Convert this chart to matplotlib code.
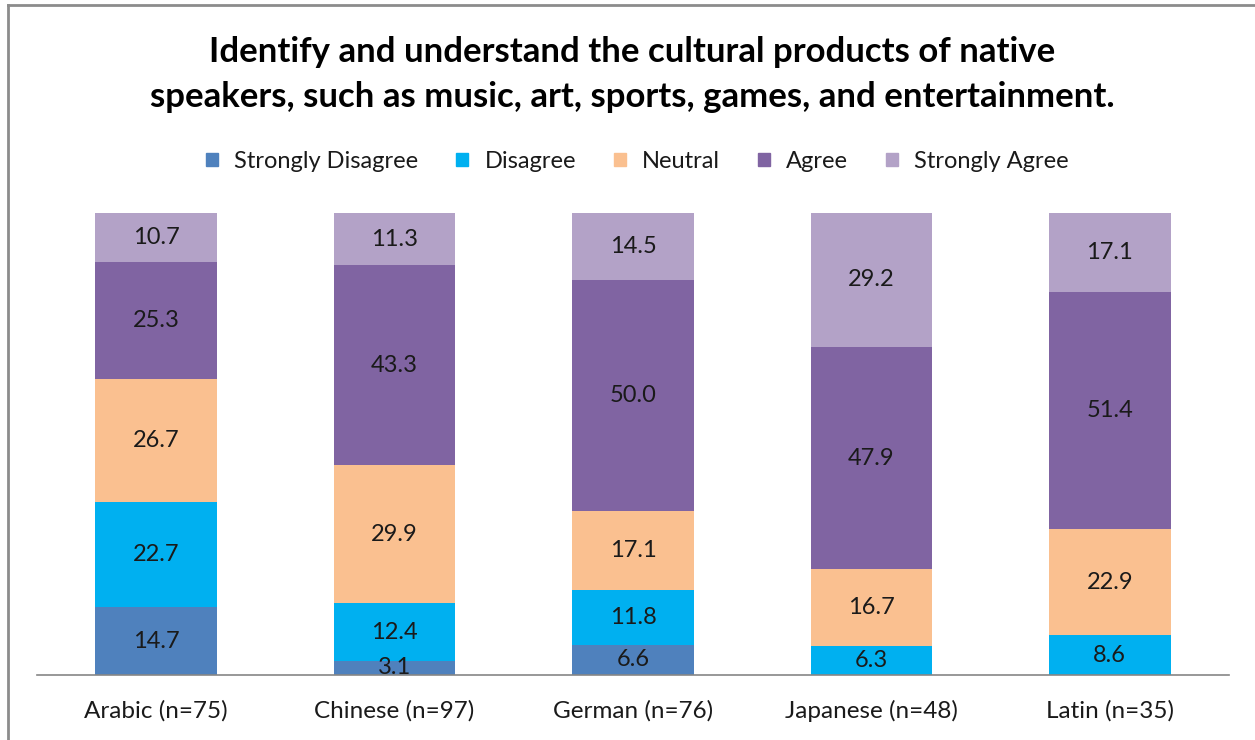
import matplotlib
matplotlib.use("Agg")
import matplotlib.pyplot as plt
from matplotlib.patches import Patch
from matplotlib.lines import Line2D
import numpy as np

plt.rcParams['font.family'] = ['Lato', 'DejaVu Sans']

# percentages by language group
groups = ["Arabic (n=75)", "Chinese (n=97)", "German (n=76)", "Japanese (n=48)", "Latin (n=35)"]
strongly_disagree = [14.7, 3.1, 6.6, 0.0, 0.0]
disagree = [22.7, 12.4, 11.8, 6.3, 8.6]
neutral = [26.7, 29.9, 17.1, 16.7, 22.9]
agree = [25.3, 43.3, 50.0, 47.9, 51.4]
strongly_agree = [10.7, 11.3, 14.5, 29.2, 17.1]

series = [
    ("Strongly Disagree", strongly_disagree, "#4F81BD"),
    ("Disagree", disagree, "#00B0F0"),
    ("Neutral", neutral, "#FAC090"),
    ("Agree", agree, "#8064A2"),
    ("Strongly Agree", strongly_agree, "#B3A2C7"),
]

txt = "#1a1a1a"
fig = plt.figure(figsize=(12.55, 7.4), dpi=100)
ax = fig.add_axes([37 / 1255, 65 / 740, 1192 / 1255, 462 / 740])

x = np.arange(len(groups))
bottom = np.zeros(len(groups))
for name, vals, col in series:
    vals = np.array(vals)
    ax.bar(x, vals, 0.51, bottom=bottom, color=col, label=name)
    for xi, b, v in zip(x, bottom, vals):
        if v > 0:
            ax.text(xi, b + v / 2, f"{v:.1f}", ha="center", va="center",
                    fontsize=17, color=txt)
    bottom += vals

ax.set_xlim(-0.5, len(groups) - 0.5)
ax.set_ylim(0, 100)
ax.set_xticks(x)
ax.set_xticklabels(groups, fontsize=17.5, color=txt)
ax.tick_params(axis="x", length=0, pad=18)
ax.set_yticks([])
for s in ["top", "left", "right"]:
    ax.spines[s].set_visible(False)
ax.spines["bottom"].set_color("#868686")
ax.spines["bottom"].set_linewidth(1.2)

fig.text(0.504, 0.899,
         "Identify and understand the cultural products of native\n"
         "speakers, such as music, art, sports, games, and entertainment.",
         ha="center", va="center", fontsize=25, fontweight="bold",
         color="black", linespacing=1.48)

handles = [Patch(color=c, label=n) for n, _, c in series]
fig.legend(handles=handles, loc="center", bbox_to_anchor=(0.508, 0.782),
           ncol=5, frameon=False, fontsize=17, handlelength=0.5,
           handleheight=0.5, handletextpad=0.7, columnspacing=1.6,
           labelcolor=txt)

# chart frame edges
fig.add_artist(Line2D([8 / 1255, 8 / 1255], [0, 1 - 5 / 740],
                      transform=fig.transFigure, color="#8c8c8c", lw=2))
fig.add_artist(Line2D([8 / 1255, 1], [1 - 5 / 740, 1 - 5 / 740],
                      transform=fig.transFigure, color="#8c8c8c", lw=2))

fig.savefig("out.png", dpi=100, facecolor="white")
